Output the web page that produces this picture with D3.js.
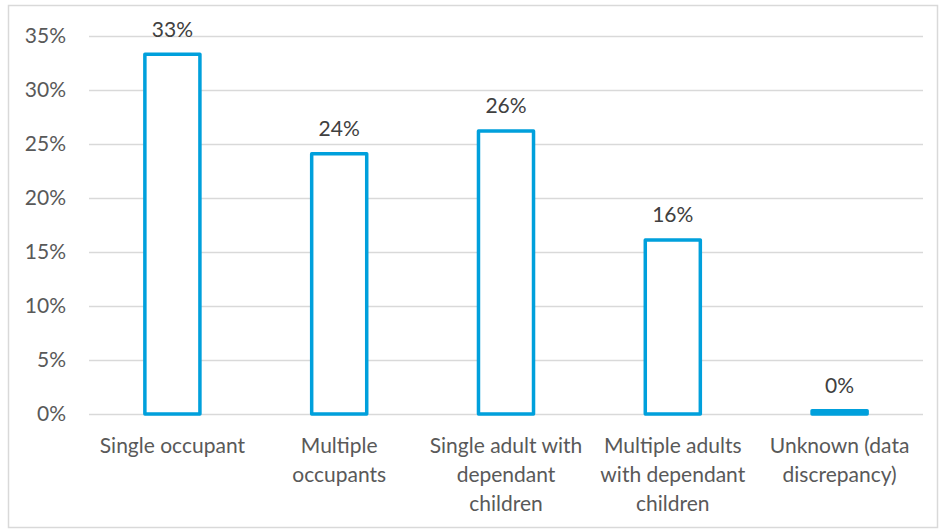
<!DOCTYPE html>
<html><head><meta charset="utf-8">
<script src="https://cdn.jsdelivr.net/npm/d3@7"></script>
<style>body{margin:0;background:#fff}svg{display:block}</style>
</head><body>
<script>
const categories = ["Single occupant","Multiple occupants","Single adult with dependant children","Multiple adults with dependant children","Unknown (data discrepancy)"];
const categoryLines = [["Single occupant"],["Multiple","occupants"],["Single adult with","dependant","children"],["Multiple adults","with dependant","children"],["Unknown (data","discrepancy)"]];
const values = [33.3, 24.1, 26.2, 16.1, 0.3];
const valueLabels = ["33%","24%","26%","16%","0%"];
const yTicks = [0,5,10,15,20,25,30,35];

const W=942,H=532;
const svg=d3.select("body").append("svg").attr("width",W).attr("height",H);
svg.append("rect").attr("x",8.5).attr("y",5.5).attr("width",929).attr("height",522).attr("fill","#fff").attr("stroke","#d9d9d9").attr("stroke-width",1.5);
const font="Lato, 'Open Sans', sans-serif";
const fs=21;
const x=d3.scaleBand().domain(categories).range([89,923]).paddingInner(0.67).paddingOuter(0.335);
const y=d3.scaleLinear().domain([0,35]).range([414,36]);

svg.append("g").selectAll("line").data(yTicks).join("line")
 .attr("x1",89).attr("x2",923).attr("y1",d=>Math.round(y(d))+0.5).attr("y2",d=>Math.round(y(d))+0.5)
 .attr("stroke","#d9d9d9").attr("stroke-width",1.3);
svg.append("g").selectAll("text").data(yTicks).join("text")
 .attr("x",66).attr("y",d=>y(d)).attr("dy","0.35em").attr("text-anchor","end")
 .attr("font-family",font).attr("font-size",fs).attr("fill","#595959").text(d=>d+"%");

svg.append("g").selectAll("rect").data(values).join("rect")
 .attr("x",(d,i)=>x(categories[i])).attr("width",x.bandwidth())
 .attr("y",d=>y(d)).attr("height",d=>y(0)-y(d))
 .attr("fill","#fff").attr("stroke","#00a0dc").attr("stroke-width",3.5).attr("stroke-linejoin","round");

svg.append("g").selectAll("text").data(values).join("text")
 .attr("x",(d,i)=>x(categories[i])+x.bandwidth()/2).attr("y",d=>y(d)-25).attr("dy","0.35em")
 .attr("text-anchor","middle").attr("font-family",font).attr("font-size",fs).attr("fill","#404040")
 .text((d,i)=>valueLabels[i]);

const lg=svg.append("g");
categoryLines.forEach((lines,i)=>{
  lines.forEach((t,j)=>{
    lg.append("text").attr("x",x(categories[i])+x.bandwidth()/2).attr("y",446+j*29).attr("dy","0.35em")
     .attr("text-anchor","middle").attr("font-family",font).attr("font-size",fs).attr("fill","#595959").text(t);
  });
});
</script>
</body></html>
